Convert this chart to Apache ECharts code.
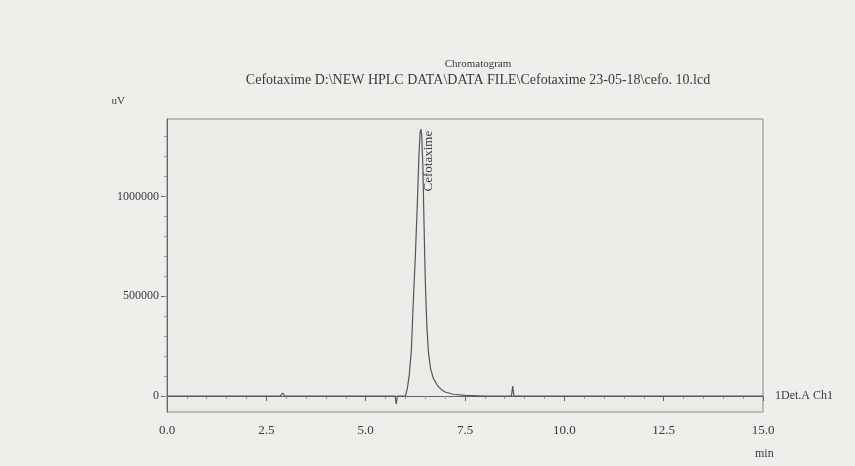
<!DOCTYPE html>
<html><head><meta charset="utf-8">
<script src="https://cdn.jsdelivr.net/npm/echarts@6/dist/echarts.min.js"></script>
<style>html,body{margin:0;padding:0;background:#eeeeeb}#c{width:855px;height:466px}</style>
</head><body><div id="c"></div>
<script>
const titleText = "Chromatogram";
const subtitleText = "Cefotaxime D:\\NEW HPLC DATA\\DATA FILE\\Cefotaxime 23-05-18\\cefo. 10.lcd";
const times = [0, 2.85, 2.91, 2.97, 5.74, 5.77, 5.80, 6.00, 6.05, 6.10, 6.15, 6.20, 6.25, 6.30, 6.34, 6.37, 6.39, 6.41, 6.44, 6.47, 6.50, 6.54, 6.58, 6.63, 6.70, 6.80, 6.90, 7.00, 7.20, 7.50, 8.00, 8.67, 8.70, 8.73, 15.0];
const signal = [0, 0, 15000, 0, 0, -40000, 0, 0, 40000, 110000, 230000, 480000, 700000, 960000, 1200000, 1320000, 1337000, 1310000, 1150000, 850000, 580000, 350000, 220000, 140000, 90000, 55000, 33000, 20000, 9000, 3000, 0, 0, 50000, 0, 0];
const peakName = "Cefotaxime";
const peakTime = 6.39;
const peakValue = 1337000;
const xTicks = [0, 2.5, 5, 7.5, 10, 12.5, 15];
const yLabelValues = [0, 500000, 1000000];
const yMinorValues = [0,100000,200000,300000,400000,500000,600000,700000,800000,900000,1000000,1100000,1200000,1300000];
const channelName = "1Det.A Ch1";
const yUnit = "uV";
const xUnit = "min";

const font = "'Liberation Serif', 'DejaVu Serif', serif";
const ink = "#3a3a3a";
const chart = echarts.init(document.getElementById('c'));
chart.setOption({
  backgroundColor: '#eeeeeb',
  animation: false,
  title: {
    text: titleText, subtext: subtitleText, left: 473, textAlign: 'center', top: 54, itemGap: 3,
    textStyle: {fontFamily: font, fontSize: 11, fontWeight: 'normal', color: ink},
    subtextStyle: {fontFamily: font, fontSize: 14, color: ink}
  },
  graphic: [{
    type: 'text', left: 755, top: 448,
    style: {text: xUnit, fontFamily: font, fontSize: 12, fill: ink}
  }],
  grid: {left: 167, right: 92, top: 119, bottom: 54, show: true, backgroundColor: '#ebebe7', borderColor: '#8a8a88', borderWidth: 1},
  xAxis: {
    type: 'value', min: 0, max: 15, interval: 2.5,
    axisLine: {show: true, lineStyle: {color: '#666', width: 1}},
    axisTick: {show: true, length: 5, lineStyle: {color: '#666'}},
    minorTick: {show: true, splitNumber: 5, length: 3, lineStyle: {color: '#999'}},
    splitLine: {show: false},
    axisLabel: {fontFamily: font, fontSize: 13, color: ink, margin: 12, formatter: v => v.toFixed(1), customValues: xTicks}
  },
  yAxis: [{
    type: 'value', min: -80000, max: 1387500,
    name: yUnit, nameLocation: 'end', nameGap: 12,
    nameTextStyle: {fontFamily: font, fontSize: 11, color: ink, align: 'right', padding: [0, 42, 0, 0]},
    axisLine: {show: true, lineStyle: {color: '#666', width: 1}},
    axisTick: {show: true, length: 6, lineStyle: {color: '#666'}, customValues: yLabelValues},
    splitLine: {show: false},
    axisLabel: {fontFamily: font, fontSize: 12, color: ink, margin: 8, formatter: v => String(v), customValues: yLabelValues}
  }, {
    type: 'value', min: -80000, max: 1387500, position: 'left',
    axisLine: {show: false},
    axisTick: {show: true, length: 3, lineStyle: {color: '#999'}, customValues: yMinorValues},
    axisLabel: {show: false, customValues: []},
    splitLine: {show: false}
  }],
  series: [{
    type: 'line', data: times.map((t, i) => [t, signal[i]]),
    showSymbol: false, symbol: 'none',
    lineStyle: {color: '#555', width: 1.2},
    endLabel: {show: true, formatter: channelName, fontFamily: font, fontSize: 12, color: ink, distance: 12},
    markPoint: {
      symbol: 'circle', symbolSize: 0,
      data: [{coord: [peakTime, peakValue], name: peakName}],
      label: {show: true, position: 'inside', formatter: peakName, rotate: 90, fontFamily: font, fontSize: 13, color: ink, offset: [-32, 8]}
    }
  }]
});
</script></body></html>
